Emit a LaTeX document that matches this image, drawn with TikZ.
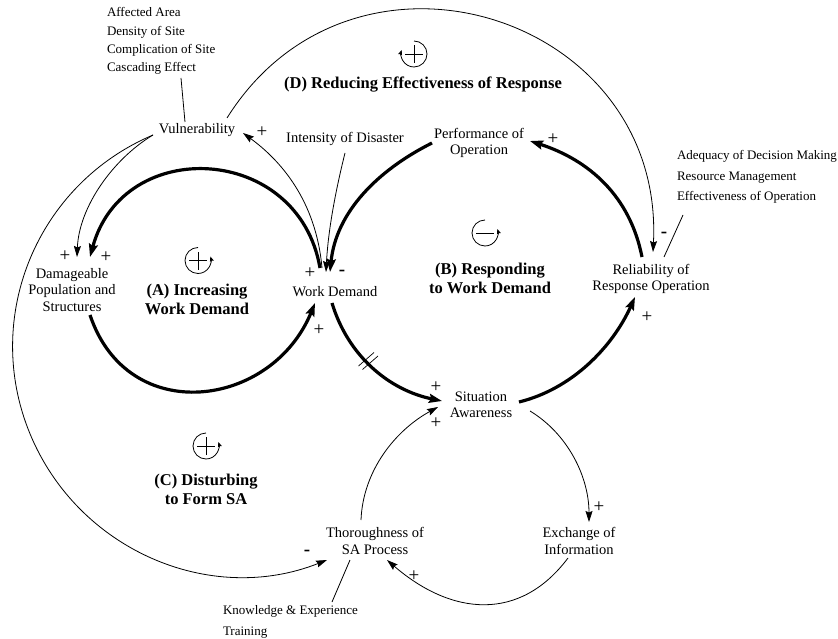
\documentclass[tikz,border=0pt]{standalone}
\usepackage{fontspec}
\setmainfont{Liberation Serif}
\usetikzlibrary{arrows.meta}
\begin{document}
\begin{tikzpicture}[x=1pt,y=-1pt,
  every node/.style={inner sep=0pt, outer sep=0pt},
  var/.style={font=\fontsize{14.5}{16.5}\selectfont, align=center},
  note/.style={font=\fontsize{13}{18.3}\selectfont, align=left, anchor=west},
  noteb/.style={font=\fontsize{13}{20.5}\selectfont, align=left, anchor=west},
  looplab/.style={font=\bfseries\fontsize{16.5}{19}\selectfont, align=center},
  sgn/.style={font=\fontsize{19}{19}\selectfont},
  thicklink/.style={line width=3.2pt, -{Stealth[length=13pt,width=9pt,inset=2pt]}},
  thinlink/.style={line width=0.8pt, -{Stealth[length=11pt,width=7pt,inset=1.5pt]}},
  plainline/.style={line width=0.8pt},
  loopsym/.style={line width=0.8pt},
  symtip/.style={-{Stealth[length=5pt,width=4pt,inset=0.8pt]}},
]
\useasboundingbox (0,0) rectangle (838,639);

% ---------- variables ----------
\node[var] (vul) at (197,130) {Vulnerability};
\node[var] (int) at (345,139) {Intensity of Disaster};
\node[var] (perf) at (479,143) {Performance of\\Operation};
\node[var] (wd) at (335,292) {Work Demand};
\node[var] (dam) at (72,290) {Damageable\\Population and\\Structures};
\node[var] (rel) at (651,279) {Reliability of\\Response Operation};
\node[var] (sa) at (481,405) {Situation\\Awareness};
\node[var] (exch) at (579,541) {Exchange of\\Information};
\node[var] (thor) at (375,541) {Thoroughness of\\SA Process};

% ---------- annotations ----------
\node[note] (vulnote) at (107,41) {Affected Area\\Density of Site\\Complication of Site\\Cascading Effect};
\node[noteb] (relnote) at (677,177) {Adequacy of Decision Making\\Resource Management\\Effectiveness of Operation};
\node[noteb] (thornote) at (223,622) {Knowledge \& Experience\\Training};

% ---------- loop labels ----------
\node[looplab] (labA) at (197,299) {(A) Increasing\\Work Demand};
\node[looplab] (labB) at (490,278) {(B) Responding\\to Work Demand};
\node[looplab] (labC) at (206,489) {(C) Disturbing\\to Form SA};
\node[looplab] (labD) at (423,85) {(D) Reducing Effectiveness of Response};

% ---------- connector end points ----------
\coordinate (wdTopA) at (320,268);
\coordinate (wdTopB) at (322,268);
\coordinate (wdInA) at (326,272);
\coordinate (wdInB) at (330,272);
\coordinate (wdBotIn) at (315,303);
\coordinate (wdBotOut) at (332,303);
\coordinate (damTopA) at (77,257);
\coordinate (damTopB) at (90,257);
\coordinate (damBot) at (90,315);
\coordinate (vulL) at (153,135);
\coordinate (vulR) at (243,133);
\coordinate (vulTR) at (227,118);
\coordinate (vulTop) at (185,122);
\coordinate (intBot) at (345,153);
\coordinate (perfL) at (432,143);
\coordinate (perfR) at (530,141);
\coordinate (relTop) at (642,257);
\coordinate (relTopB) at (653,252);
\coordinate (relTopC) at (664,257);
\coordinate (relBot) at (635,297);
\coordinate (saLa) at (442,401);
\coordinate (saLb) at (438,407);
\coordinate (saR) at (519,402);
\coordinate (saRB) at (530,411);
\coordinate (exchTop) at (589,522);
\coordinate (exchBot) at (568,558);
\coordinate (thorTop) at (361,520);
\coordinate (thorL) at (327,560);
\coordinate (thorR) at (387,560);
\coordinate (thorBot) at (350,560);
\coordinate (cascEnd) at (181,78);
\coordinate (effEnd) at (683,215);
\coordinate (knowEnd) at (332,602);
\coordinate (vulLeft) at (29.8,433.3);

% ---------- thick links ----------
\draw[thicklink] (wdTopA) .. controls (298.5,143.6) and (123.1,135.1) .. (damTopB);
\draw[thicklink] (damBot) .. controls (128,428) and (272,408) .. (wdBotIn);
\draw[thicklink] (wdBotOut) .. controls (348,356) and (389,390) .. (saLa);
\draw[thicklink] (saR) .. controls (572,389) and (612.5,347) .. (relBot);
\draw[thicklink] (relTop) .. controls (630,196) and (589,160) .. (perfR);
\draw[thicklink] (perfL) .. controls (378,170) and (336,212) .. (wdInB);

% ---------- thin links ----------
\draw[thinlink] (wdTopB) .. controls (316,200) and (280,160) .. (vulR);
\draw[thinlink] (intBot) .. controls (335,193) and (328,232) .. (wdInA);
\draw[thinlink] (vulTR) .. controls (353.3,-83.4) and (664.7,14.4) .. (relTopB);
\draw[thinlink] (vulL) .. controls (113,159) and (79,207) .. (damTopA);
\draw[thinlink] (vulL) .. controls (37.1,184.1) and (-18,316.8) .. (vulLeft)
   .. controls (77.6,549.8) and (209.9,606.3) .. (thorL);
\draw[thinlink] (saRB) .. controls (568,434) and (589,477) .. (exchTop);
\draw[thinlink] (exchBot) .. controls (520,622) and (452,616) .. (thorR);
\draw[thinlink] (thorTop) .. controls (363,470) and (396,430) .. (saLb);

% ---------- annotation lines ----------
\draw[plainline] (cascEnd) -- (vulTop);
\draw[plainline] (effEnd) -- (relTopC);
\draw[plainline] (thorBot) -- (knowEnd);

% ---------- delay mark ----------
\draw[line width=0.7pt] (358.5,366) -- (374,352.5) (362.5,369.5) -- (378,356);

% ---------- polarity signs ----------
\node[sgn] (s1) at (106,257) {+};
\node[sgn] (s2) at (65,256) {+};
\node[sgn] (s3) at (262,132) {+};
\node[sgn] (s4) at (310,273) {+};
\node[sgn] (s5) at (342,273) {\textbf{-}};
\node[sgn] (s6) at (319,330) {+};
\node[sgn] (s7) at (436,387) {+};
\node[sgn] (s8) at (436,423) {+};
\node[sgn] (s9) at (647,317) {+};
\node[sgn] (s10) at (553,139) {+};
\node[sgn] (s11) at (664,235) {\textbf{-}};
\node[sgn] (s12) at (599,507) {+};
\node[sgn] (s13) at (414,576) {+};
\node[sgn] (s14) at (307,553) {\textbf{-}};

% ---------- loop polarity symbols ----------
\begin{scope}[shift={(198,260.5)}, y=1pt]
  \draw[loopsym, symtip] (90:13) arc[start angle=90, end angle=378, radius=13];
  \draw[loopsym] (-9,0) -- (9,0) (0,-9) -- (0,9);
\end{scope}
\begin{scope}[shift={(485,233)}, y=1pt]
  \draw[loopsym, symtip] (90:13) arc[start angle=90, end angle=378, radius=13];
  \draw[loopsym] (-9,0) -- (9,0);
\end{scope}
\begin{scope}[shift={(206,446)}, y=1pt]
  \draw[loopsym, symtip] (90:13) arc[start angle=90, end angle=378, radius=13];
  \draw[loopsym] (-9,0) -- (9,0) (0,-9) -- (0,9);
\end{scope}
\begin{scope}[shift={(414,54)}, y=1pt]
  \draw[loopsym, symtip] (90:13) arc[start angle=90, end angle=-198, radius=13];
  \draw[loopsym] (-9,0) -- (9,0) (0,-9) -- (0,9);
\end{scope}

\end{tikzpicture}
\end{document}
